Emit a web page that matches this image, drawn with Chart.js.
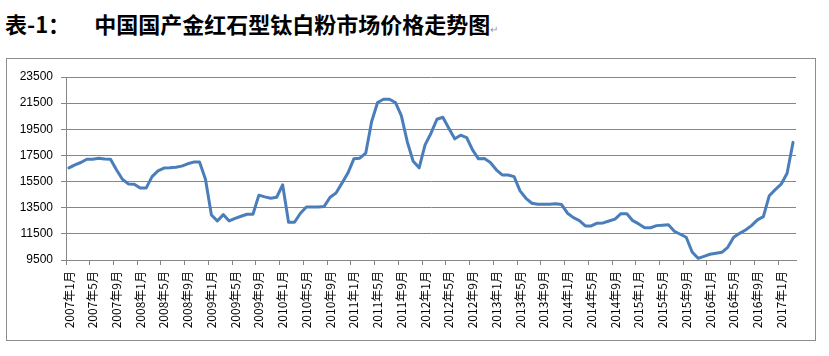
<!DOCTYPE html>
<html>
<head>
<meta charset="utf-8">
<script src="https://cdn.jsdelivr.net/npm/chart.js@4.4.1/dist/chart.umd.min.js"></script>
<style>
  html, body { margin: 0; padding: 0; background: #fff; width: 829px; height: 356px; overflow: hidden; }
  #title { position: absolute; left: 5px; top: 12px; font-family: "Noto Sans CJK SC", sans-serif; font-weight: bold; font-size: 22px; line-height: 22px; color: #000; white-space: nowrap; }
  #title .num { margin-right: 24px; }
  #title .mark { font-weight: normal; font-size: 10px; color: #999; }
  #box { position: absolute; left: 6px; top: 58px; width: 808px; height: 281px; border: 1px solid #8c8c8c; }
  #box canvas { display: block; }
</style>
</head>
<body>
<div id="title"><span class="num">表-1：</span>中国国产金红石型钛白粉市场价格走势图<span class="mark">↵</span></div>
<div id="box"><canvas id="c"></canvas></div>
<script>
// Monthly categories: 2007年1月 .. 2017年3月
const startYear = 2007;
const monthCount = 123;
const categories = [];
for (let k = 0; k < monthCount; k++) {
  categories.push((startYear + Math.floor(k / 12)) + '年' + (k % 12 + 1) + '月');
}

// Price (元/吨)
const prices = [
  16550, 16780, 16960, 17210, 17210, 17290, 17230, 17210, 16400, 15680, 15320, 15300,
  15000, 15000, 15880, 16320, 16530, 16550, 16600, 16680, 16860, 16990, 17000, 15680,
  12940, 12490, 12970, 12490, 12690, 12850, 13000, 13000, 14460, 14330, 14230, 14300,
  15250, 12390, 12390, 13080, 13560, 13560, 13560, 13600, 14300, 14630, 15380, 16150,
  17240, 17290, 17670, 20100, 21550, 21800, 21800, 21550, 20550, 18550, 17050, 16550,
  18310, 19200, 20270, 20420, 19580, 18770, 19050, 18870, 17930, 17240, 17260, 16960,
  16400, 16010, 16000, 15880, 14790, 14220, 13840, 13760, 13760, 13760, 13810, 13740,
  13080, 12740, 12510, 12110, 12110, 12320, 12340, 12480, 12630, 13040, 13040, 12510,
  12260, 11970, 11970, 12130, 12160, 12190, 11700, 11470, 11240, 10110, 9630, 9780,
  9940, 10010, 10090, 10470, 11240, 11540, 11800, 12130, 12570, 12820, 14420, 14880,
  15300, 16140, 18500
];

const yTicks = [9500, 11500, 13500, 15500, 17500, 19500, 21500, 23500];
const labelEvery = 4;

const gridGray = '#868686';

new Chart(document.getElementById('c'), {
  type: 'line',
  data: {
    labels: categories,
    datasets: [{
      data: prices,
      borderColor: '#4A7EBB',
      borderWidth: 3,
      borderJoinStyle: 'round',
      borderCapStyle: 'round',
      pointRadius: 0,
      tension: 0,
      fill: false
    }]
  },
  options: {
    responsive: true,
    maintainAspectRatio: false,
    animation: false,
    layout: { padding: { left: 0, right: 19, top: 18, bottom: 0 } },
    plugins: { legend: { display: false }, tooltip: { enabled: false }, title: { display: false } },
    scales: {
      x: {
        type: 'category',
        offset: true,
        grid: {
          offset: true,
          drawOnChartArea: false,
          drawTicks: true,
          tickLength: 5,
          color: (ctx) => (ctx.index % labelEvery === 0 ? gridGray : 'rgba(0,0,0,0)'),
          lineWidth: 1
        },
        border: { display: true, color: gridGray, width: 1 },
        ticks: {
          autoSkip: false,
          maxRotation: 90,
          minRotation: 90,
          padding: 6,
          color: '#000',
          font: { family: '"Noto Sans CJK SC", sans-serif', size: 12 },
          callback: function (value, index) {
            return index % labelEvery === 0 ? categories[index] : '';
          }
        },
        afterFit: (scale) => { scale.height = 80; }
      },
      y: {
        min: 9500,
        max: 23500,
        afterBuildTicks: (scale) => { scale.ticks = yTicks.map(v => ({ value: v })); },
        grid: { color: gridGray, lineWidth: 1, tickLength: 5 },
        border: { display: true, color: gridGray, width: 1 },
        ticks: {
          padding: 8,
          color: '#000',
          font: { family: '"Liberation Sans", Arial, sans-serif', size: 12 },
          callback: (value) => String(value)
        },
        afterFit: (scale) => { scale.width = 59; }
      }
    }
  }
});
</script>
</body>
</html>
